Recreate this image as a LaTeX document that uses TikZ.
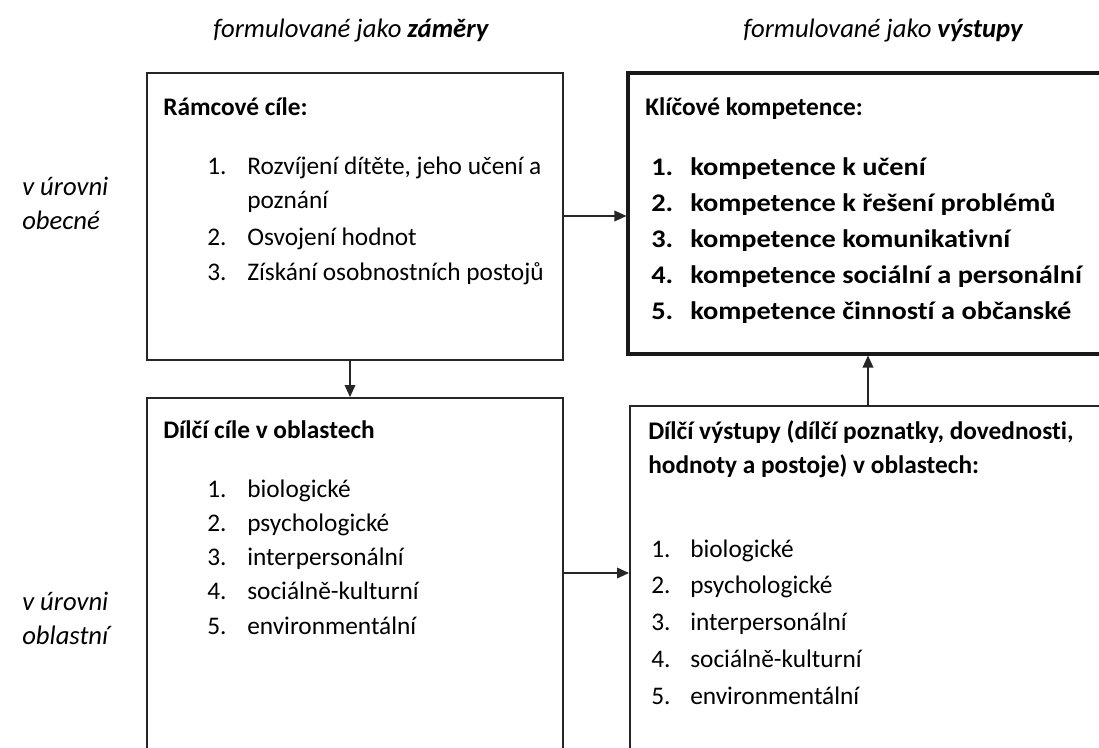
\documentclass[tikz,border=0pt]{standalone}
\usepackage{fontspec}
\setmainfont{Carlito}[Ligatures=NoCommon]
\newfontfamily\widecarlito{Carlito}[FakeStretch=1.12,Ligatures=NoCommon]
\usetikzlibrary{arrows.meta,fit}
\begin{document}
\begin{tikzpicture}[x=0.75pt,y=-0.75pt,font=\fontsize{19}{23}\selectfont]
\tikzset{
  box/.style={draw=black!85,line width=1.5pt,inner sep=0pt},
  boxthick/.style={draw=black!90,line width=2.3pt,inner sep=0pt},
  arr/.style={draw=black!85,line width=1.1pt,-{Triangle[length=9pt,width=8pt]}},
  txt/.style={anchor=base west,inner sep=0pt},
  big/.style={anchor=base west,inner sep=0pt,font=\fontsize{19}{23}\selectfont\widecarlito\bfseries},
  side/.style={anchor=base west,inner sep=0pt,font=\fontsize{20}{24}\selectfont\itshape},
}
\useasboundingbox (0,0) rectangle (1099,747);
% boxes
\node[box,fit={(147,73) (563,360)}] (tl) {};
\node[boxthick,fit={(628,73) (1115,354)}] (tr) {};
\node[box,fit={(147,398) (563,770)}] (bl) {};
\node[box,fit={(630,406) (1115,770)}] (br) {};
% headers
\node[side] (h1) at (213,37) {formulované jako \textbf{záměry}};
\node[side] (h2) at (743,37) {formulované jako \textbf{výstupy}};
% side labels
\node[side] (s1) at (22,195) {v úrovni};
\node[side] (s2) at (22,229) {obecné};
\node[side] (s3) at (22,610) {v úrovni};
\node[side] (s4) at (22,644) {oblastní};
% top-left
\node[txt] (tlh) at (163,115) {\textbf{Rámcové cíle:}};
\node[txt] (tln1) at (207,174) {1.};
\node[txt] (tlt1) at (247,174) {Rozvíjení dítěte, jeho učení a};
\node[txt] (tlt1b) at (247,208) {poznání};
\node[txt] (tln2) at (207,245) {2.};
\node[txt] (tlt2) at (247,245) {Osvojení hodnot};
\node[txt] (tln3) at (207,280) {3.};
\node[txt] (tlt3) at (247,280) {Získání osobnostních postojů};
% top-right
\node[txt] (trh) at (645,115) {\textbf{Klíčové kompetence:}};
\node[big] (trn1) at (651,175) {1.};
\node[big] (trt1) at (690,175) {kompetence k učení};
\node[big] (trn2) at (651,211) {2.};
\node[big] (trt2) at (690,211) {kompetence k řešení problémů};
\node[big] (trn3) at (651,247) {3.};
\node[big] (trt3) at (690,247) {kompetence komunikativní};
\node[big] (trn4) at (651,283) {4.};
\node[big] (trt4) at (690,283) {kompetence sociální a personální};
\node[big] (trn5) at (651,319) {5.};
\node[big] (trt5) at (690,319) {kompetence činností a občanské};
% bottom-left
\node[txt] (blh) at (163,438) {\textbf{Dílčí cíle v oblastech}};
\node[txt] (bln1) at (207,497) {1.};
\node[txt] (blt1) at (247,497) {biologické};
\node[txt] (bln2) at (207,531) {2.};
\node[txt] (blt2) at (247,531) {psychologické};
\node[txt] (bln3) at (207,565) {3.};
\node[txt] (blt3) at (247,565) {interpersonální};
\node[txt] (bln4) at (207,599) {4.};
\node[txt] (blt4) at (247,599) {sociálně-kulturní};
\node[txt] (bln5) at (207,634) {5.};
\node[txt] (blt5) at (247,634) {environmentální};
% bottom-right
\node[txt] (brh) at (648,439) {\textbf{Dílčí výstupy (dílčí poznatky, dovednosti,}};
\node[txt] (brh2) at (648,473) {\textbf{hodnoty a postoje) v oblastech:}};
\node[txt] (brn1) at (651,557) {1.};
\node[txt] (brt1) at (690,557) {biologické};
\node[txt] (brn2) at (651,593) {2.};
\node[txt] (brt2) at (690,593) {psychologické};
\node[txt] (brn3) at (651,630) {3.};
\node[txt] (brt3) at (690,630) {interpersonální};
\node[txt] (brn4) at (651,667) {4.};
\node[txt] (brt4) at (690,667) {sociálně-kulturní};
\node[txt] (brn5) at (651,704) {5.};
\node[txt] (brt5) at (690,704) {environmentální};
% arrows
\coordinate (y1) at (0,216);
\coordinate (y2) at (0,573);
\coordinate (x1) at (350,0);
\coordinate (x2) at (868,0);
\draw[arr] (tl.east |- y1) -- (tr.west |- y1);
\draw[arr] (bl.east |- y2) -- (br.west |- y2);
\draw[arr] (tl.south -| x1) -- (bl.north -| x1);
\draw[arr] (br.north -| x2) -- (tr.south -| x2);
\end{tikzpicture}
\end{document}
